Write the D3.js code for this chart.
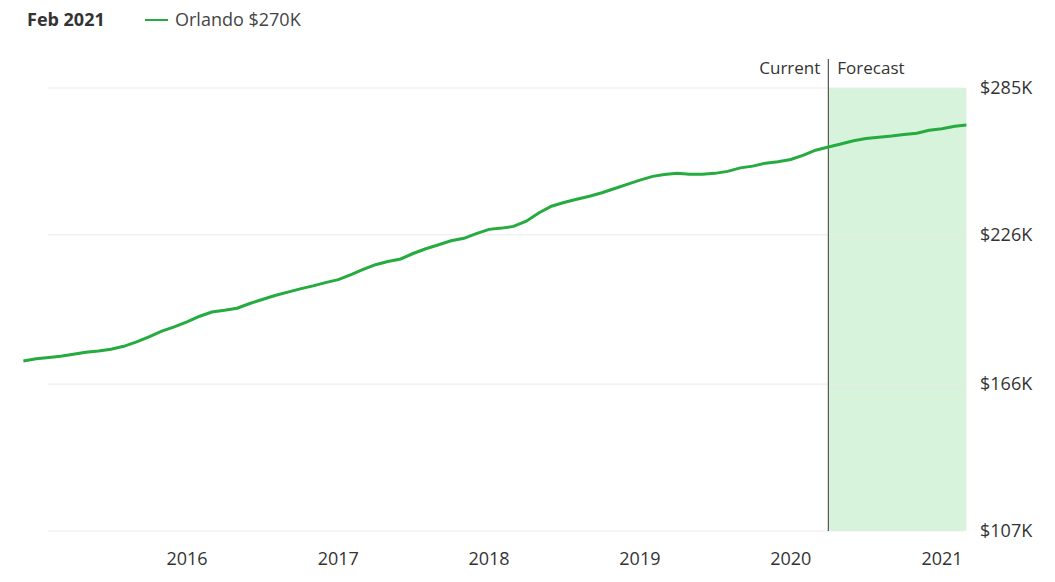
<!DOCTYPE html>
<html><head><meta charset="utf-8">
<script src="https://cdn.jsdelivr.net/npm/d3@7"></script>
<style>body{margin:0;background:#fff;font-family:"Open Sans",sans-serif;}</style>
</head><body><svg id="chart" width="1055" height="582"></svg>
<script>
const startMonth = new Date(2014, 11, 1);
const values = [175.3,176.2,176.7,177.2,178.0,178.8,179.3,180.0,181.2,183.0,185.0,187.3,
  189.0,191.0,193.3,195.0,195.7,196.5,198.4,200.0,201.6,203.0,204.3,205.5,
  206.8,208.0,210.0,212.0,214.0,215.3,216.3,218.5,220.4,222.0,223.6,224.6,
  226.5,228.2,228.7,229.4,231.5,234.8,237.5,239.0,240.3,241.5,242.9,244.6,
  246.3,248.0,249.5,250.2,250.7,250.3,250.3,250.7,251.5,252.9,253.6,254.8,
  255.4,256.3,258.0,260.0,261.3,262.5,263.8,264.7,265.2,265.7,266.3,266.8,
  268.0,268.6,269.6,270.1];
const yTicks = [107, 166, 226, 285];
const yearTicks = [2016, 2017, 2018, 2019, 2020, 2021];
const currentDate = new Date(2020, 3, 1);
const forecastEnd = new Date(2021, 2, 1);

const data = values.map((v, i) => ({date: d3.timeMonth.offset(startMonth, i), v}));
const svg = d3.select('#chart');
const x = d3.scaleTime().domain([new Date(2016,0,1), new Date(2021,0,1)]).range([187, 942]);
const y = d3.scaleLinear().domain([107, 285]).range([531, 88]);

svg.append('rect')
    .attr('x', x(currentDate)).attr('y', y(285))
    .attr('width', x(forecastEnd) - x(currentDate)).attr('height', y(107) - y(285))
    .attr('fill', '#d7f3dc');

svg.selectAll('line.grid').data(yTicks).join('line')
    .attr('x1', 48).attr('x2', 963)
    .attr('y1', d => y(d)).attr('y2', d => y(d))
    .attr('stroke', '#ebebeb');

svg.selectAll('text.ylab').data(yTicks).join('text')
    .attr('x', 980).attr('y', d => y(d) + 6)
    .attr('font-size', 18).attr('fill', '#333')
    .text(d => '$' + d + 'K');

svg.selectAll('text.xlab').data(yearTicks).join('text')
    .attr('x', d => x(new Date(d, 0, 1))).attr('y', 565)
    .attr('text-anchor', 'middle').attr('font-size', 18).attr('fill', '#333')
    .text(d => d);

svg.append('line')
    .attr('x1', x(currentDate)).attr('x2', x(currentDate))
    .attr('y1', 59).attr('y2', 531)
    .attr('stroke', '#555').attr('stroke-width', 1.2);
svg.append('text').attr('x', x(currentDate) - 8).attr('y', 74)
    .attr('text-anchor', 'end').attr('font-size', 17).attr('fill', '#333').text('Current');
svg.append('text').attr('x', x(currentDate) + 9).attr('y', 74)
    .attr('font-size', 17).attr('fill', '#333').text('Forecast');

svg.append('path').datum(data)
    .attr('fill', 'none').attr('stroke', '#25ab3f').attr('stroke-width', 3)
    .attr('d', d3.line().x(d => x(d.date)).y(d => y(d.v)));

svg.append('text').attr('x', 27).attr('y', 26)
    .attr('font-size', 18).attr('font-weight', 'bold').attr('fill', '#333').text('Feb 2021');
svg.append('line').attr('x1', 145).attr('x2', 168).attr('y1', 20).attr('y2', 20)
    .attr('stroke', '#25ab3f').attr('stroke-width', 2);
svg.append('text').attr('x', 175).attr('y', 26)
    .attr('font-size', 18).attr('fill', '#444').text('Orlando $270K');
</script></body></html>
